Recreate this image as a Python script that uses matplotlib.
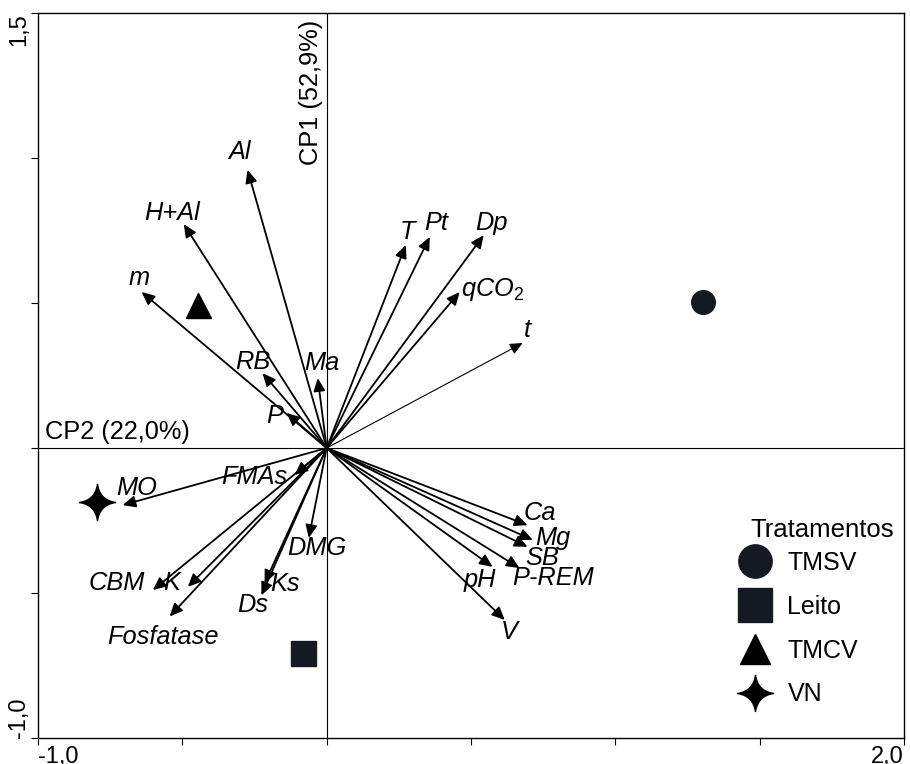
import numpy as np
import matplotlib
matplotlib.use('Agg')
import matplotlib.pyplot as plt
from matplotlib.path import Path
from matplotlib.lines import Line2D

plt.rcParams['font.family'] = ['Liberation Sans', 'DejaVu Sans']
plt.rcParams['mathtext.fontset'] = 'custom'
plt.rcParams['mathtext.it'] = 'Liberation Sans:italic'
plt.rcParams['mathtext.rm'] = 'Liberation Sans'

# variable vectors (CP2 on x, CP1 on y)
variables = ['Al', 'H+Al', 'm', 'RB', 'Ma', 'P', 'MO', 'FMAs', 'DMG', 'CBM', 'K',
             'Fosfatase', 'Ks', 'Ds', 'T', 'Pt', 'Dp', 'qCO2', 't', 'Ca', 'Mg',
             'SB', 'P-REM', 'pH', 'V']
vec_x = [-0.274, -0.495, -0.641, -0.222, -0.031, -0.139, -0.707, -0.111, -0.062, -0.602, -0.481,
         -0.544, -0.215, -0.226, 0.274, 0.357, 0.544, 0.461, 0.679, 0.696, 0.714,
         0.696, 0.668, 0.575, 0.617]
vec_y = [0.959, 0.772, 0.538, 0.258, 0.241, 0.121, -0.197, -0.093, -0.310, -0.490, -0.479,
         -0.581, -0.466, -0.508, 0.700, 0.728, 0.734, 0.538, 0.362, -0.266, -0.317,
         -0.341, -0.414, -0.410, -0.593]

# treatments
treatments = ['TMSV', 'Leito', 'TMCV', 'VN']
trat_x = [1.302, -0.083, -0.447, -0.797]
trat_y = [0.503, -0.707, 0.493, -0.186]

# label placement (data coords)
label_pos = {
    'Al': (-0.301, 1.021), 'H+Al': (-0.537, 0.810), 'm': (-0.648, 0.586),
    'RB': (-0.256, 0.297), 'Ma': (-0.017, 0.293), 'P': (-0.180, 0.110),
    'MO': (-0.658, -0.138), 'FMAs': (-0.249, -0.100), 'DMG': (-0.035, -0.345),
    'CBM': (-0.727, -0.466), 'K': (-0.537, -0.466), 'Fosfatase': (-0.568, -0.652),
    'Ks': (-0.145, -0.469), 'Ds': (-0.256, -0.541), 'T': (0.281, 0.745),
    'Pt': (0.381, 0.776), 'Dp': (0.572, 0.776), 'qCO2': (0.575, 0.545),
    't': (0.696, 0.407), 'Ca': (0.738, -0.224), 'Mg': (0.783, -0.310),
    'SB': (0.745, -0.379), 'P-REM': (0.783, -0.448), 'pH': (0.530, -0.455),
    'V': (0.634, -0.634),
}

# four pointed star with curved sides
s = 0.13
star = Path([(0, 1), (s, s), (1, 0), (s, -s), (0, -1), (-s, -s), (-1, 0), (-s, s), (0, 1), (0, 1)],
            [Path.MOVETO, Path.CURVE3, Path.CURVE3, Path.CURVE3, Path.CURVE3,
             Path.CURVE3, Path.CURVE3, Path.CURVE3, Path.CURVE3, Path.CLOSEPOLY])

markers = ['o', 's', '^', star]
colors = ['#141a24', '#141a24', 'black', 'black']
sizes = [17, 18, 18, 26]
leg_sizes = [24, 25, 22, 26]

fs = 18.3

fig = plt.figure(figsize=(9.1, 7.64), dpi=100)
ax = fig.add_axes([38 / 910, 26 / 764, 866 / 910, 725 / 764])

ax.axhline(0, color='black', lw=0.8, zorder=1)
ax.axvline(0, color='black', lw=0.8, zorder=1)

for name, x, y in zip(variables, vec_x, vec_y):
    lw = 0.8 if name == 't' else 1.3
    ax.annotate('', xy=(x, y), xytext=(0, 0),
                arrowprops=dict(arrowstyle='-|>,head_length=0.55,head_width=0.25',
                                lw=lw, color='black', mutation_scale=14,
                                shrinkA=0, shrinkB=0))
    lx, ly = label_pos[name]
    txt = r'$\mathit{qCO}_\mathrm{2}$' if name == 'qCO2' else name
    ax.text(lx, ly, txt, style='italic', fontsize=fs, ha='center', va='center')

for i in range(len(treatments)):
    ax.plot(trat_x[i], trat_y[i], marker=markers[i], color=colors[i], ms=sizes[i],
            linestyle='none', zorder=3)

ax.text(-0.977, 0.014, 'CP2 (22,0%)', fontsize=fs, ha='left', va='bottom')
ax.text(-0.055, 1.228, 'CP1 (52,9%)', fontsize=fs, ha='center', va='center', rotation=90)

# legend
ax.text((750 - 38) / 866, (738 - 530) / 725, 'Tratamentos', fontsize=18.5,
        ha='left', va='center', transform=ax.transAxes)
handles = [Line2D([], [], marker=markers[i], color=colors[i], ms=leg_sizes[i], linestyle='none')
           for i in range(len(treatments))]
leg = ax.legend(handles, treatments, loc='upper left',
                bbox_to_anchor=((730 - 38) / 866, (738 - 551) / 725), frameon=False,
                fontsize=18, handletextpad=0.3, labelspacing=0.79,
                borderpad=0.0, borderaxespad=0.0)

ax.set_xlim(-1.0, 2.0)
ax.set_ylim(-1.0, 1.5)
ax.set_xticks(np.arange(-1.0, 2.01, 0.5))
ax.set_yticks(np.arange(-1.0, 1.51, 0.5))
xl = ['-1,0'] + [''] * 5 + ['2,0']
yl = ['-1,0'] + [''] * 4 + ['1,5']
ax.set_xticklabels(xl, fontsize=17)
ax.set_yticklabels(yl, fontsize=17, rotation=90)
xt = ax.get_xticklabels()
xt[0].set_ha('left')
xt[-1].set_ha('right')
yt = ax.get_yticklabels()
yt[0].set_va('bottom')
yt[-1].set_va('top')
ax.tick_params(direction='out', length=5, width=0.8, pad=0.5)
for sp in ax.spines.values():
    sp.set_linewidth(1.0)

fig.savefig('out.png', dpi=100)
